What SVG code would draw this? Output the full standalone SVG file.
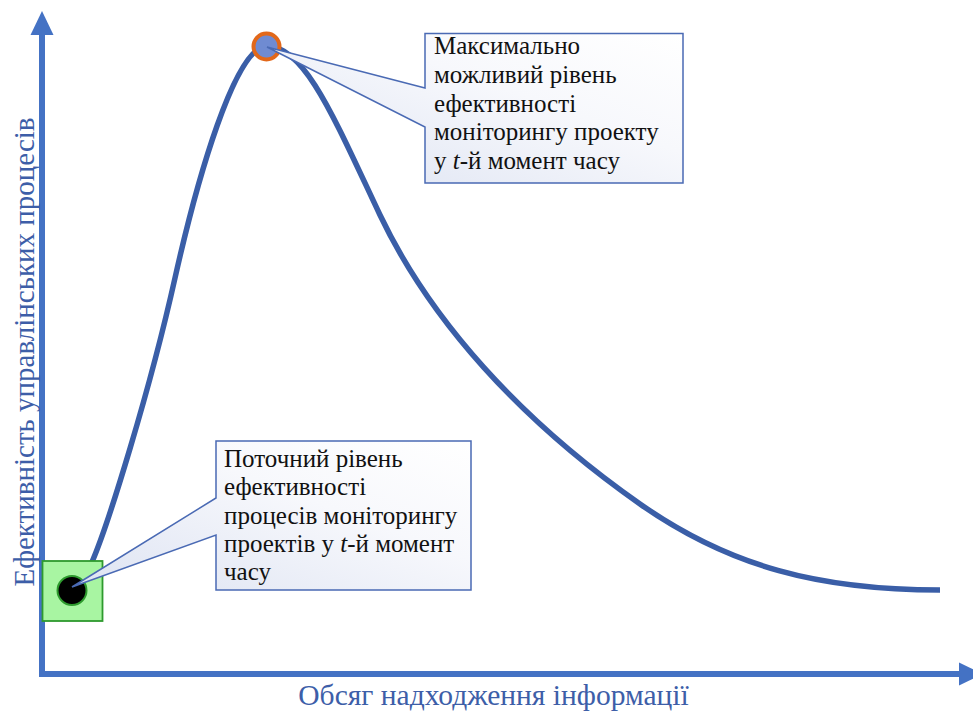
<svg xmlns="http://www.w3.org/2000/svg" width="973" height="716" viewBox="0 0 973 716">
  <defs>
    <marker id="axisHead" markerUnits="userSpaceOnUse" markerWidth="24" markerHeight="24" refX="0" refY="11.5" orient="auto" overflow="visible">
      <path d="M0,0 L24,11.5 L0,23 Z" fill="#4472c4"/>
    </marker>
    <linearGradient id="calloutFill" x1="0" y1="1" x2="1" y2="0">
      <stop offset="0" stop-color="#dde3f2"/>
      <stop offset="0.6" stop-color="#f7f8fc"/>
      <stop offset="1" stop-color="#ffffff"/>
    </linearGradient>
    <style>
      .axis { stroke: #4472c4; stroke-width: 6; fill: none; }
      .axis-label { font-family: "Liberation Serif", "DejaVu Serif", serif; font-size: 29.5px; fill: #3d5ea8; }
      .curve { stroke: #3a5ea7; stroke-width: 5.5; fill: none; }
      .callout { fill: url(#calloutFill); stroke: #4a6ab4; stroke-width: 1.5; stroke-linejoin: miter; }
      .callout-text { font-family: "Liberation Serif", "DejaVu Serif", serif; font-size: 25px; fill: #111111; }
    </style>
  </defs>

  <!-- axes -->
  <g id="axes">
    <line class="axis" x1="42" y1="677" x2="42" y2="35" marker-end="url(#axisHead)"/>
    <line class="axis" x1="39" y1="674" x2="959" y2="674" marker-end="url(#axisHead)"/>
    <text class="axis-label" x="493.5" y="705" text-anchor="middle">Обсяг надходження інформації</text>
    <text class="axis-label" transform="rotate(-90)" x="-352" y="33.5" text-anchor="middle" style="font-size:29px">Ефективність управлінських процесів</text>
  </g>

  <!-- efficiency curve -->
  <g id="connectors">
    <path class="curve" d="M92,562 C108,525 150,390 175,278 C197,180 235,46 267,46 C305,46 335,120 380,215 C430,320 520,420 640,504 C730,567 820,590 940,590"/>
  </g>

  <!-- current level marker -->
  <g id="current-point">
    <rect x="42.5" y="561" width="60" height="60" fill="#a8f5a2" stroke="#2e9a2e" stroke-width="1.8"/>
    <circle cx="72" cy="590.5" r="14.5" fill="#000000" stroke="#2e9a2e" stroke-width="2"/>
  </g>

  <!-- maximum level marker -->
  <g id="peak-point">
    <circle cx="266.5" cy="46.5" r="13" fill="#6f8bd2" stroke="#e2681a" stroke-width="4"/>
  </g>

  <!-- callout for the current level -->
  <g id="callout-current">
    <path class="callout" d="M216,441 H471 V590 H216 V535 L72,587 L216,498 Z"/>
    <text class="callout-text" x="224" y="467">Поточний рівень</text>
    <text class="callout-text" x="224" y="495.3">ефективності</text>
    <text class="callout-text" x="224" y="523.6">процесів моніторингу</text>
    <text class="callout-text" x="224" y="551.9">проектів у <tspan font-style="italic">t</tspan>-й момент</text>
    <text class="callout-text" x="224" y="580.2">часу</text>
  </g>

  <!-- callout for the maximum level -->
  <g id="callout-peak">
    <path class="callout" d="M425,33.5 H683 V183 H425 V127 L267,47 L425,88 Z"/>
    <text class="callout-text" x="434" y="54.3">Максимально</text>
    <text class="callout-text" x="434" y="83">можливий рівень</text>
    <text class="callout-text" x="434" y="111.7">ефективності</text>
    <text class="callout-text" x="434" y="140.4">моніторингу проекту</text>
    <text class="callout-text" x="434" y="169.1">у <tspan font-style="italic">t</tspan>-й момент часу</text>
  </g>
</svg>
